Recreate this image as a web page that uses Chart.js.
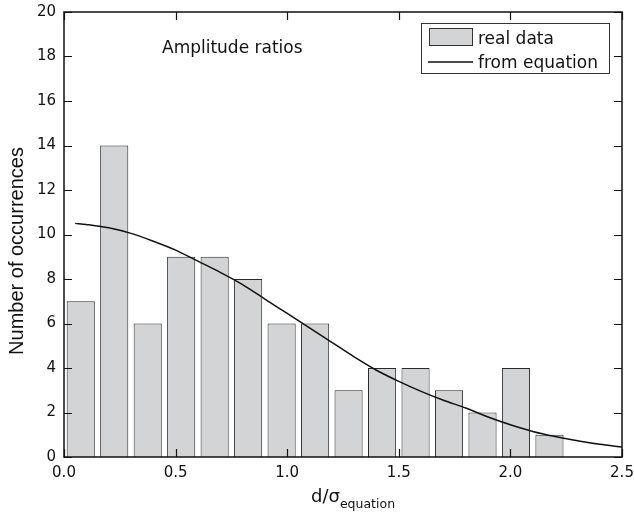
<!DOCTYPE html>
<html>
<head>
<meta charset="utf-8">
<script src="https://cdn.jsdelivr.net/npm/chart.js@4"></script>
<style>
  body { margin: 0; background: #fff; }
</style>
</head>
<body>
<canvas id="histChart" width="634" height="514"></canvas>
<script>
// histogram bins (centres) and counts
const binCenters = [0.075, 0.225, 0.375, 0.525, 0.675, 0.825, 0.975, 1.125, 1.275, 1.425, 1.575, 1.725, 1.875, 2.025, 2.175];
const counts = [7, 14, 6, 9, 9, 8, 6, 6, 3, 4, 4, 3, 2, 4, 1];

// curve
const curveX = [0.05, 0.1, 0.2, 0.3, 0.4, 0.5, 0.6, 0.7, 0.8, 0.9, 1.0, 1.1, 1.2, 1.3, 1.4, 1.5, 1.6, 1.7, 1.8, 1.9, 2.0, 2.1, 2.2, 2.3, 2.4, 2.5];
const curveY = [10.5, 10.45, 10.3, 10.05, 9.7, 9.3, 8.8, 8.3, 7.75, 7.1, 6.45, 5.8, 5.15, 4.5, 3.9, 3.4, 2.95, 2.55, 2.2, 1.8, 1.45, 1.15, 0.92, 0.73, 0.57, 0.45];

const xTicks = [0, 0.5, 1.0, 1.5, 2.0, 2.5];
const yTicks = [0, 2, 4, 6, 8, 10, 12, 14, 16, 18, 20];

const barFill = 'rgb(211,212,214)';
const barEdge = '#2a2a2a';

// frame, inward ticks, legend box and texts
const decorations = {
    id: 'decorations',
    afterDatasetsDraw(chart) {
        const ctx = chart.ctx;
        const a = chart.chartArea;
        const xs = chart.scales.x, ys = chart.scales.y;
        ctx.save();
        ctx.strokeStyle = '#111';
        ctx.lineWidth = 1.5;
        ctx.strokeRect(a.left, a.top, a.right - a.left, a.bottom - a.top);

        ctx.lineWidth = 1.2;
        ctx.beginPath();
        xTicks.forEach(v => {
            const px = Math.round(xs.getPixelForValue(v)) + 0.5;
            ctx.moveTo(px, a.bottom); ctx.lineTo(px, a.bottom - 8);
            ctx.moveTo(px, a.top); ctx.lineTo(px, a.top + 8);
        });
        yTicks.forEach(v => {
            const py = Math.round(ys.getPixelForValue(v)) + 0.5;
            ctx.moveTo(a.left, py); ctx.lineTo(a.left + 8, py);
            ctx.moveTo(a.right, py); ctx.lineTo(a.right - 8, py);
        });
        ctx.stroke();

        // legend
        const ds = chart.data.datasets;
        ctx.lineWidth = 1;
        ctx.strokeStyle = '#333';
        ctx.strokeRect(421.5, 23.5, 188, 50);
        ctx.fillStyle = ds[0].backgroundColor;
        ctx.fillRect(429, 28, 43, 17);
        ctx.strokeRect(429.5, 28.5, 43, 17);
        ctx.strokeStyle = ds[1].borderColor;
        ctx.lineWidth = ds[1].borderWidth;
        ctx.beginPath();
        ctx.moveTo(428, 62); ctx.lineTo(473, 62);
        ctx.stroke();
        ctx.fillStyle = '#111';
        ctx.font = '17px "DejaVu Sans"';
        ctx.textBaseline = 'alphabetic';
        ctx.textAlign = 'left';
        ctx.fillText(ds[0].label, 478, 43.5);
        ctx.fillText(ds[1].label, 478, 67.5);

        // annotation
        ctx.fillText('Amplitude ratios', 162, 53);

        // x title with subscript
        ctx.font = '18px "DejaVu Sans"';
        ctx.fillText('d/σ', 311, 502);
        const w = ctx.measureText('d/σ').width;
        ctx.font = '12.5px "DejaVu Sans"';
        ctx.fillText('equation', 311 + w, 508);

        // y title
        ctx.translate(23, 251);
        ctx.rotate(-Math.PI / 2);
        ctx.textAlign = 'center';
        ctx.font = '20px "Liberation Sans"';
        ctx.fillText('Number of occurrences', 0, 0);
        ctx.restore();
    }
};

const ctx = document.getElementById('histChart').getContext('2d');
const chart = new Chart(ctx, {
    type: 'bar',
    data: {
        datasets: [{
            type: 'bar',
            label: 'real data',
            data: binCenters.map((x, i) => ({ x: x, y: counts[i] })),
            backgroundColor: barFill,
            borderColor: barEdge,
            borderWidth: 1,
            borderSkipped: 'bottom',
            barPercentage: 0.84,
            categoryPercentage: 1,
            order: 2
        }, {
            type: 'line',
            label: 'from equation',
            data: curveX.map((x, i) => ({ x: x, y: curveY[i] })),
            borderColor: '#111',
            borderWidth: 1.5,
            pointRadius: 0,
            tension: 0.3,
            fill: false,
            order: 1
        }]
    },
    options: {
        responsive: false,
        animation: false,
        layout: { padding: { top: 12, right: 12, left: 0, bottom: 0 } },
        plugins: {
            legend: { display: false },
            tooltip: { enabled: false }
        },
        scales: {
            x: {
                type: 'linear',
                min: 0,
                max: 2.5,
                offset: false,
                grid: { display: false, drawTicks: false },
                border: { display: false },
                afterFit: s => { s.height = 57; s.paddingLeft = 0; s.paddingRight = 0; },
                afterBuildTicks: s => { s.ticks = xTicks.map(v => ({ value: v })); },
                ticks: {
                    padding: 7,
                    color: '#111',
                    font: { family: 'DejaVu Sans', size: 15 },
                    callback: v => v.toFixed(1)
                }
            },
            y: {
                min: 0,
                max: 20,
                grid: { display: false, drawTicks: false },
                border: { display: false },
                afterFit: s => { s.width = 64; s.paddingTop = 0; s.paddingBottom = 0; },
                afterBuildTicks: s => { s.ticks = yTicks.map(v => ({ value: v })); },
                ticks: {
                    padding: 8,
                    color: '#111',
                    font: { family: 'DejaVu Sans', size: 15 }
                }
            }
        }
    },
    plugins: [decorations]
});
</script>
</body>
</html>
